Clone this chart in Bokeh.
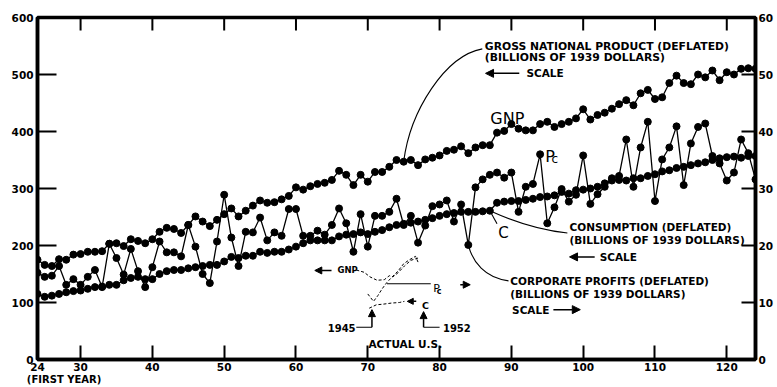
from bokeh.plotting import figure
from bokeh.models import Range1d, LinearAxis, FixedTicker, Label, Arrow, NormalHead
from bokeh.embed import file_html
from bokeh.resources import INLINE

# ---------------- data ----------------
years = list(range(24, 125))
gnp = [175, 166, 164, 176, 175, 184, 185, 189, 189, 190,
       203, 204, 199, 211, 208, 204, 211, 224, 231, 229,
       222, 236, 251, 242, 234, 245, 255, 265, 251, 261,
       270, 279, 275, 276, 281, 287, 302, 298, 304, 308,
       310, 315, 331, 324, 306, 324, 312, 329, 329, 338,
       350, 347, 350, 341, 351, 354, 358, 366, 368, 374,
       362, 372, 376, 376, 398, 401, 413, 405, 402, 402,
       413, 417, 408, 413, 417, 423, 439, 421, 429, 433,
       440, 448, 455, 446, 467, 473, 457, 460, 485, 498,
       485, 483, 500, 495, 507, 490, 504, 500, 510, 511,
       510]
consumption = [115, 110, 112, 115, 118, 120, 121, 124, 127, 128,
               131, 131, 139, 143, 145, 141, 141, 150, 155, 157,
               157, 160, 162, 164, 166, 166, 172, 180, 178, 182,
               182, 189, 187, 189, 189, 193, 198, 204, 209, 209,
               209, 209, 216, 219, 220, 223, 220, 224, 227, 232,
               236, 238, 240, 242, 245, 248, 252, 255, 257, 259,
               259, 259, 260, 261, 275, 277, 278, 278, 280, 282,
               285, 286, 288, 294, 291, 297, 298, 300, 303, 309,
               314, 315, 314, 318, 318, 322, 325, 330, 332, 336,
               338, 341, 344, 346, 350, 353, 355, 356, 354, 357,
               357]
profits = [15.2, 14.5, 14.7, 16.4, 13.1, 14.1, 13.1, 14.5, 15.7, 12.7,
           20.3, 17.8, 14.9, 19.4, 15.5, 12.7, 16.2, 20.7, 18.8, 18.8,
           18.1, 23.6, 19.8, 15.0, 13.4, 20.7, 28.9, 21.4, 16.4, 22.4,
           22.3, 24.9, 20.9, 22.3, 21.7, 26.4, 26.4, 21.7, 21.7, 22.6,
           21.9, 23.6, 26.5, 23.9, 18.9, 25.5, 19.8, 25.2, 25.2, 25.9,
           28.2, 23.6, 25.2, 20.5, 23.5, 26.9, 27.2, 27.9, 24.2, 27.2,
           20.1, 30.2, 31.6, 32.4, 32.8, 31.9, 32.8, 25.9, 30.3, 30.8,
           36.0, 23.9, 26.7, 29.9, 27.7, 28.9, 35.8, 27.3, 29.0, 30.3,
           31.8, 32.2, 38.6, 30.3, 37.2, 41.7, 27.8, 35.1, 37.2, 40.9,
           30.6, 37.9, 40.8, 41.4, 35.7, 34.4, 31.4, 32.8, 38.6, 36.2,
           31.6]

left_ticks = [0, 100, 200, 300, 400, 500, 600]
right_ticks = [0, 10, 20, 30, 40, 50, 60]
bottom_ticks = [24, 30, 40, 50, 60, 70, 80, 90, 100, 110, 120]
top_ticks = [30, 40, 50, 60, 70, 80, 90, 100, 110, 120]
first_year_tick = 27.7
first_year_text = "(FIRST YEAR)"

# inset "ACTUAL U.S." sketch (chart coordinates, left scale)
inset_gnp_x = [68.4, 69.5, 70.3, 71.3, 72.3, 73.0, 73.5, 74.2, 75.1, 76.0, 77.0]
inset_gnp_y = [157, 153, 145, 139, 140, 147, 145, 152, 164, 174, 178]
inset_pc_x = [70.0, 70.8, 71.4, 72.0, 72.65, 73.4, 74.2, 75.0, 75.8, 76.65, 77.1]
inset_pc_y = [115, 102, 112, 124, 135, 145, 155, 168, 175, 181, 168]
inset_c_x = [70.2, 71.2, 72.1, 73.3, 74.4, 75.1]
inset_c_y = [90, 96, 97, 99, 100, 102]

# ---------------- figure ----------------
FONT = "DejaVu Sans"
p = figure(width=777, height=387, output_backend="svg", toolbar_location=None,
           x_range=Range1d(24, 124), y_range=Range1d(0, 600),
           x_axis_location=None, y_axis_location=None,
           min_border_left=37, min_border_right=22, min_border_top=17, min_border_bottom=27)
p.extra_y_ranges = {"pc": Range1d(0, 60)}
p.grid.grid_line_color = None
p.outline_line_color = "black"
p.outline_line_width = 3.5
p.background_fill_color = "white"
p.border_fill_color = "white"


def style(ax, tick_in, standoff):
    ax.axis_line_width = 3.5
    ax.axis_line_color = "black"
    ax.major_tick_in = tick_in
    ax.major_tick_out = 0
    ax.minor_tick_in = 0
    ax.minor_tick_out = 0
    ax.major_tick_line_width = 2
    ax.major_tick_line_color = "black"
    ax.major_label_standoff = standoff
    ax.major_label_text_font = FONT
    ax.major_label_text_font_style = "bold"
    ax.major_label_text_color = "black"
    ax.major_label_text_font_size = "10.5px"


ax_l = LinearAxis(ticker=FixedTicker(ticks=left_ticks))
style(ax_l, 19, 4)
ax_r = LinearAxis(y_range_name="pc", ticker=FixedTicker(ticks=right_ticks))
style(ax_r, 14, 3)
ax_b = LinearAxis(ticker=FixedTicker(ticks=bottom_ticks))
style(ax_b, 14, 3)
ax_fy = LinearAxis(ticker=FixedTicker(ticks=[first_year_tick]),
                   major_label_overrides={first_year_tick: first_year_text})
style(ax_fy, 0, 0)
ax_fy.axis_line_color = None
ax_fy.major_tick_line_color = None
ax_fy.major_label_text_font_size = "10px"
p.add_layout(ax_l, "left")
p.add_layout(ax_r, "right")
p.add_layout(ax_b, "below")
p.add_layout(ax_fy, "below")

# inward ticks hanging from the top border
p.segment(x0=top_ticks, y0=[600] * len(top_ticks), x1=top_ticks,
          y1=[577] * len(top_ticks), line_color="black", line_width=2)

# series
p.line(years, gnp, line_color="black", line_width=1.3)
p.scatter(years, gnp, size=7, color="black")
p.line(years, consumption, line_color="black", line_width=1.3)
p.scatter(years, consumption, size=7, color="black")
p.line(years, profits, line_color="black", line_width=1.3, y_range_name="pc")
p.scatter(years, profits, size=7, color="black", y_range_name="pc")

i75 = years.index(75)
i84 = years.index(84)
i87 = years.index(87)

# leader curves
p.bezier(x0=[85.95], y0=[545], cx0=[80.8], cy0=[533], cx1=[75.9], cy1=[437],
         x1=[75], y1=[gnp[i75]], line_color="black", line_width=1.1)
p.bezier(x0=[87], y0=[consumption[i87]], cx0=[90.5], cy0=[241], cx1=[94.0], cy1=[227],
         x1=[97.8], y1=[222], line_color="black", line_width=1.1)
p.bezier(x0=[84], y0=[profits[i84] * 10], cx0=[84.6], cy0=[171], cx1=[86.3], cy1=[143],
         x1=[89.6], y1=[138], line_color="black", line_width=1.1)
p.line([87, 88.0], [consumption[i87], 238], line_color="black", line_width=1.1)


def lab(x, y, text, size="10.5px", style_="bold", align="left", base="middle"):
    p.add_layout(Label(x=x, y=y, text=text, text_font=FONT, text_font_size=size,
                       text_font_style=style_, text_align=align, text_baseline=base,
                       text_color="black"))


def arr(x0, y0, x1, y1, size=8):
    p.add_layout(Arrow(end=NormalHead(size=size, fill_color="black", line_color="black"),
                       x_start=x0, y_start=y0, x_end=x1, y_end=y1,
                       line_color="black", line_width=1.5))


# GNP annotation
lab(86.3, 549, "GROSS NATIONAL PRODUCT (DEFLATED)", size="10.8px")
lab(86.3, 529, "(BILLIONS OF 1939 DOLLARS)", size="10.8px")
arr(91.1, 502, 86.4, 502)
lab(92.1, 502, "SCALE")
lab(87.07, 422, "GNP", size="16px", style_="normal", base="alphabetic")
lab(94.73, 357, "P", size="16px", style_="normal", base="alphabetic")
lab(95.6, 351, "c", size="12px", style_="normal", base="alphabetic")
lab(88.18, 222, "C", size="15px", style_="normal", base="alphabetic")

# consumption annotation
lab(98.1, 232.6, "CONSUMPTION (DEFLATED)")
lab(98.1, 209.9, "(BILLIONS OF 1939 DOLLARS)")
arr(101.6, 180, 98.1, 180)
lab(102.3, 180, "SCALE")

# corporate profits annotation
lab(89.85, 138.2, "CORPORATE PROFITS (DEFLATED)")
lab(89.85, 115.4, "(BILLIONS OF 1939 DOLLARS)")
lab(90.1, 87.5, "SCALE")
arr(95.85, 87.5, 99.6, 87.5)

# inset "actual U.S."
p.line(inset_gnp_x, inset_gnp_y, line_color="black", line_width=1, line_dash="3 2")
p.line(inset_pc_x, inset_pc_y, line_color="black", line_width=1, line_dash="3 2")
p.line(inset_c_x, inset_c_y, line_color="black", line_width=1, line_dash="3 2")
arr(64.95, 156.2, 62.62, 156.2, size=7)
lab(65.78, 156.2, "GNP", size="8.5px")
p.line([72.67, 78.77], [132.9, 132.9], line_color="black", line_width=1.2)
lab(79.12, 124, "P", size="11px", style_="normal", base="alphabetic")
lab(79.6, 119.5, "c", size="8px", style_="bold", base="alphabetic")
arr(82.88, 131.2, 84.27, 131.2, size=7)
arr(76.75, 102, 75.5, 102, size=6)
lab(77.55, 94, "C", size="9.5px", base="alphabetic")
p.line([68.4, 70.58], [56.5, 56.5], line_color="black", line_width=1.1)
arr(70.58, 56.5, 70.58, 87.5, size=7)
lab(68.3, 55.5, "1945", size="10px", align="right")
p.line([77.77, 80.0], [56.5, 56.5], line_color="black", line_width=1.1)
arr(77.77, 56.5, 77.77, 84, size=7)
lab(80.47, 55.5, "1952", size="10px")
lab(75.22, 27.1, "ACTUAL U.S.", size="10.5px", align="center")

open("out.html", "w").write(file_html(p, INLINE))
